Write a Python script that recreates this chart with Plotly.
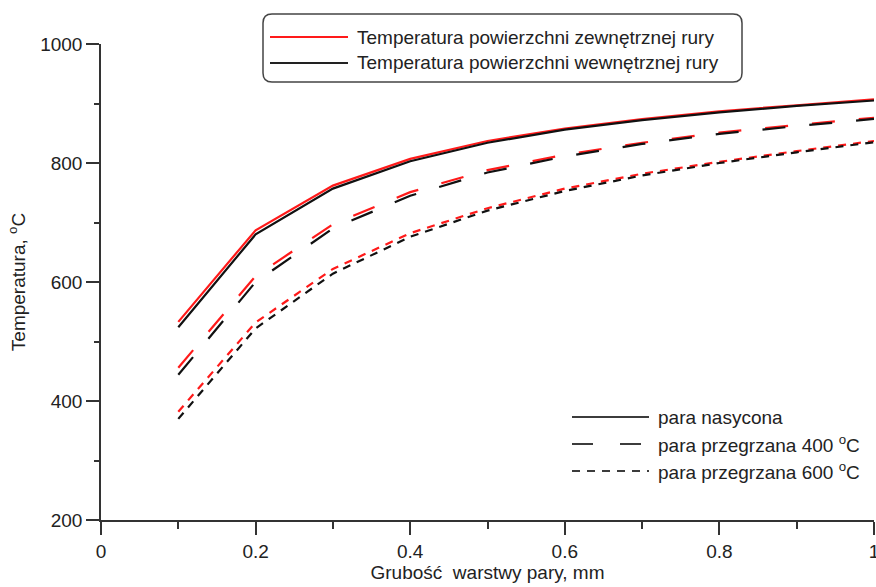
import plotly.graph_objects as go

x = [0.1, 0.2, 0.3, 0.4, 0.5, 0.6, 0.7, 0.8, 0.9, 1.0]

# para nasycona
sat_outer = [533, 687, 762, 807, 837, 858, 874, 887, 897, 907]
sat_inner = [524, 680, 757, 803, 834, 856, 872, 885, 896, 905]
# para przegrzana 400 C
s400_outer = [456, 610, 697, 751, 788, 814, 834, 851, 864, 876]
s400_inner = [444, 600, 690, 745, 784, 811, 832, 849, 862, 874]
# para przegrzana 600 C
s600_outer = [382, 532, 622, 682, 724, 757, 782, 802, 820, 837]
s600_inner = [370, 522, 614, 676, 720, 753, 779, 800, 818, 835]

x_tickvals = [0, 0.2, 0.4, 0.6, 0.8, 1.0]
x_ticktext = ["0", "0.2", "0.4", "0.6", "0.8", "1"]
y_tickvals = [200, 400, 600, 800, 1000]

legend_colors = ["Temperatura powierzchni zewnętrznej rury",
                 "Temperatura powierzchni wewnętrznej rury"]
legend_styles = ["para nasycona",
                 "para przegrzana 400 <sup>o</sup>C",
                 "para przegrzana 600 <sup>o</sup>C"]

RED = "#ff1a1a"
BLACK = "#111111"
GRAY = "#3c3c3c"
LONG = "23px,24px"
SHORT = "8px,7px"
FONT = "Liberation Sans, Arial, sans-serif"
FS = 19

fig = go.Figure()

series = [
    (sat_outer, RED, "solid"), (sat_inner, BLACK, "solid"),
    (s400_outer, RED, LONG), (s400_inner, BLACK, LONG),
    (s600_outer, RED, SHORT), (s600_inner, BLACK, SHORT),
]
for ys, col, dash in series:
    fig.add_trace(go.Scatter(x=x, y=ys, mode="lines", showlegend=False,
                             line=dict(color=col, width=2.2, dash=dash)))

# ---- manual legends (pixel layout -> paper coords) ----
L, R, T, B = 101, 2, 44, 67
W, H = 876, 587
PW, PH = W - L - R, H - T - B


def px(X):
    return (X - L) / PW


def py(Y):
    return (H - B - Y) / PH


shapes = []
annotations = []

# legend 1 box with rounded corners
x0, x1, y0, y1, r = 263, 742, 14, 82, 9
path = (f"M {px(x0 + r)} {py(y0)} L {px(x1 - r)} {py(y0)} "
        f"Q {px(x1)} {py(y0)} {px(x1)} {py(y0 + r)} L {px(x1)} {py(y1 - r)} "
        f"Q {px(x1)} {py(y1)} {px(x1 - r)} {py(y1)} L {px(x0 + r)} {py(y1)} "
        f"Q {px(x0)} {py(y1)} {px(x0)} {py(y1 - r)} L {px(x0)} {py(y0 + r)} "
        f"Q {px(x0)} {py(y0)} {px(x0 + r)} {py(y0)} Z")
shapes.append(dict(type="path", xref="paper", yref="paper", path=path,
                   line=dict(color="#444", width=1.5), fillcolor="white"))

for i, (name, col) in enumerate(zip(legend_colors, [RED, "#222222"])):
    yy = 37 + i * 26
    shapes.append(dict(type="line", xref="paper", yref="paper",
                       x0=px(270), x1=px(348), y0=py(yy), y1=py(yy),
                       line=dict(color=col, width=2.2)))
    annotations.append(dict(text=name, xref="paper", yref="paper", x=px(355), y=py(yy),
                            xanchor="left", yanchor="middle", showarrow=False,
                            font=dict(family=FONT, size=FS, color="#222")))

for i, (name, dash) in enumerate(zip(legend_styles, ["solid", "21px,27px", "8px,7px"])):
    yy = 417 + i * 27
    shapes.append(dict(type="line", xref="paper", yref="paper",
                       x0=px(572), x1=px(649), y0=py(yy), y1=py(yy),
                       line=dict(color=GRAY, width=2.2, dash=dash)))
    annotations.append(dict(text=name, xref="paper", yref="paper", x=px(656), y=py(yy),
                            xanchor="left", yanchor="middle", showarrow=False,
                            font=dict(family=FONT, size=FS, color="#222")))

fig.update_layout(
    width=W, height=H,
    margin=dict(l=L, r=R, t=T, b=B),
    paper_bgcolor="white", plot_bgcolor="white",
    font=dict(family=FONT, size=FS, color="#222"),
    showlegend=False,
    shapes=shapes,
    annotations=annotations,
    xaxis=dict(range=[0, 1], showgrid=False, zeroline=False, showline=True,
               automargin=False,
               linecolor="#333", linewidth=1.5, ticks="outside", ticklen=13,
               tickcolor="#333", tickwidth=1.5, tickvals=x_tickvals,
               ticktext=x_ticktext, ticklabeloverflow="allow",
               minor=dict(tickvals=[0.1, 0.3, 0.5, 0.7, 0.9], ticks="outside", ticklen=7,
                          tickcolor="#333", tickwidth=1.5),
               title=dict(text="Grubość&nbsp;&nbsp;warstwy pary, mm", standoff=5,
                          font=dict(size=FS)),
               tickfont=dict(size=FS)),
    yaxis=dict(range=[200, 1000], showgrid=False, zeroline=False, showline=True,
               automargin=False,
               linecolor="#333", linewidth=1.5, ticks="outside", ticklen=13,
               tickcolor="#333", tickwidth=1.5, tickvals=y_tickvals,
               minor=dict(tickvals=[300, 500, 700, 900], ticks="outside", ticklen=5,
                          tickcolor="#333", tickwidth=1.5),
               title=dict(text="Temperatura, <sup>o</sup>C", standoff=10,
                          font=dict(size=FS)),
               tickfont=dict(size=FS)),
)

fig.write_html("out.html")
